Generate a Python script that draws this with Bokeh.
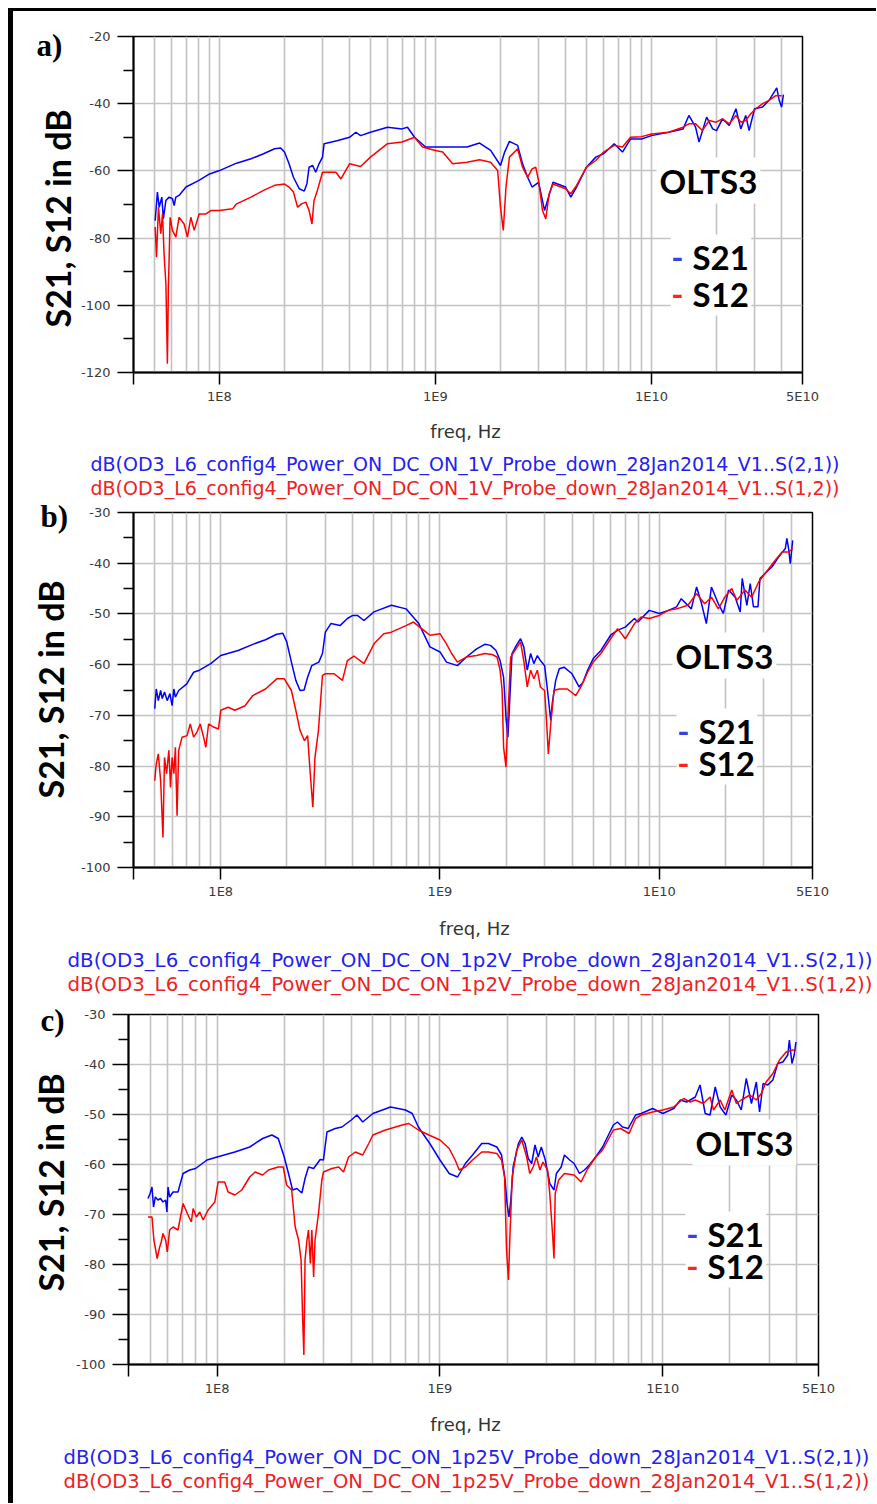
import math
from bokeh.plotting import figure
from bokeh.models import FixedTicker, Label, Div
from bokeh.layouts import column, row
from bokeh.embed import file_html
from bokeh.resources import INLINE

# ---------------- data ----------------
x_tick_values = [4e7, 1e8, 1e9, 1e10, 5e10]
x_tick_labels = ["", "1E8", "1E9", "1E10", "5E10"]

# panel a)
fa21 = [5.04e7, 5.16e7, 5.26e7, 5.41e7, 5.5e7, 5.65e7, 5.85e7, 6.06e7, 6.17e7, 6.28e7, 6.5e7, 7e7, 8e7, 9e7, 1e8,
        1.2e8, 1.4e8, 1.6e8, 1.8e8, 1.92e8, 2e8, 2.1e8, 2.2e8, 2.34e8, 2.47e8, 2.54e8, 2.6e8, 2.7e8, 2.79e8, 2.89e8,
        3e8, 3.05e8, 3.5e8, 4e8, 4.28e8, 4.5e8, 5e8, 6e8, 7e8, 7.42e8, 8e8, 9e8, 1e9, 1.2e9, 1.4e9, 1.6e9, 1.8e9,
        2e9, 2.09e9, 2.2e9, 2.4e9, 2.53e9, 2.67e9, 2.8e9, 3e9, 3.2e9, 3.3e9, 3.5e9, 4e9, 4.23e9, 4.5e9, 5e9, 5.52e9,
        6e9, 6.72e9, 7.34e9, 8e9, 9e9, 1e10, 1.2e10, 1.4e10, 1.49e10, 1.6e10, 1.66e10, 1.8e10, 1.92e10, 2e10,
        2.13e10, 2.29e10, 2.46e10, 2.59e10, 2.73e10, 2.83e10, 3e10, 3.27e10, 3.5e10, 3.8e10, 3.9e10, 4e10, 4.08e10]
da21 = [-74.8, -66.3, -70.8, -67.8, -74.3, -68.8, -67.8, -68.3, -70.3, -67.8, -67.3, -64.8, -62.9, -60.9, -59.9,
        -57.7, -56.4, -54.9, -53.4, -53.2, -54.4, -57.9, -61.9, -65.3, -66.0, -63.8, -58.9, -58.4, -60.4, -57.9,
        -55.9, -51.9, -51.0, -50.0, -48.5, -49.5, -48.5, -47.0, -47.5, -47.0, -50.0, -52.9, -52.9, -52.9, -52.9,
        -51.7, -53.9, -58.4, -54.4, -51.2, -52.4, -57.9, -61.9, -64.8, -63.4, -71.8, -68.8, -63.4, -64.8, -67.8,
        -64.8, -58.9, -55.9, -54.9, -51.9, -54.4, -50.5, -50.5, -49.5, -48.5, -47.5, -43.5, -47.0, -51.4, -44.0,
        -47.5, -48.0, -44.5, -46.5, -41.5, -47.5, -43.5, -48.0, -41.5, -41.0, -39.0, -35.3, -39.0, -41.0, -37.3]
fa12 = [5.04e7, 5.11e7, 5.22e7, 5.35e7, 5.45e7, 5.54e7, 5.65e7, 5.74e7, 5.80e7, 5.91e7, 6.06e7, 6.28e7, 6.5e7,
        6.86e7, 7.11e7, 7.37e7, 7.64e7, 8.05e7, 8.65e7, 9.12e7, 1e8, 1.15e8, 1.2e8, 1.4e8, 1.6e8, 1.8e8, 2e8, 2.1e8,
        2.2e8, 2.3e8, 2.4e8, 2.51e8, 2.6e8, 2.68e8, 2.74e8, 2.84e8, 3e8, 3.46e8, 3.65e8, 4e8, 4.5e8, 5e8, 6e8, 7e8,
        8e8, 8.71e8, 1e9, 1.08e9, 1.2e9, 1.4e9, 1.6e9, 1.8e9, 1.94e9, 2e9, 2.06e9, 2.12e9, 2.2e9, 2.4e9, 2.53e9,
        2.67e9, 2.8e9, 2.91e9, 3e9, 3.13e9, 3.24e9, 3.36e9, 3.5e9, 4e9, 4.23e9, 4.5e9, 5e9, 5.52e9, 6e9, 6.72e9,
        7.34e9, 8e9, 9e9, 1e10, 1.2e10, 1.4e10, 1.49e10, 1.6e10, 1.72e10, 1.85e10, 1.99e10, 2.13e10, 2.29e10,
        2.46e10, 2.59e10, 2.73e10, 2.88e10, 3.04e10, 3.27e10, 3.5e10, 3.76e10, 4e10]
da12 = [-76.7, -85.7, -70.8, -78.7, -72.8, -84.7, -93.6, -117.4, -95.6, -73.8, -77.7, -79.7, -73.8, -75.8, -79.7,
        -73.8, -77.7, -72.8, -72.8, -71.8, -71.8, -71.3, -69.8, -67.8, -65.8, -64.3, -63.9, -64.8, -66.3, -70.8,
        -69.8, -69.3, -71.8, -75.8, -68.8, -65.8, -60.4, -60.4, -62.4, -57.9, -58.7, -55.9, -51.9, -51.4, -50.0,
        -52.9, -53.9, -54.4, -57.9, -57.4, -56.7, -57.4, -59.9, -70.8, -77.7, -64.8, -55.9, -53.4, -58.9, -61.9,
        -59.4, -58.9, -62.9, -71.8, -74.3, -66.8, -63.9, -65.3, -66.8, -64.3, -58.9, -56.9, -54.4, -52.4, -52.9,
        -50.0, -49.8, -49.0, -48.5, -47.0, -46.0, -46.0, -48.0, -45.0, -45.5, -44.5, -46.0, -43.5, -45.5, -45.0,
        -43.0, -41.5, -40.0, -39.0, -37.6, -37.6]

# panel b)
fb21 = [5e7, 5.08e7, 5.19e7, 5.32e7, 5.41e7, 5.54e7, 5.70e7, 5.86e7, 6e7, 6.11e7, 6.21e7, 6.43e7, 7e7, 7.52e7, 8e7,
        9e7, 1e8, 1.2e8, 1.4e8, 1.6e8, 1.8e8, 1.92e8, 2e8, 2.1e8, 2.2e8, 2.3e8, 2.4e8, 2.49e8, 2.6e8, 2.8e8, 2.91e8,
        3e8, 3.18e8, 3.5e8, 3.78e8, 4e8, 4.2e8, 4.5e8, 5e8, 6e8, 7e8, 8e8, 9e8, 1e9, 1.07e9, 1.2e9, 1.32e9, 1.47e9,
        1.6e9, 1.7e9, 1.8e9, 1.88e9, 1.95e9, 2e9, 2.04e9, 2.07e9, 2.13e9, 2.25e9, 2.33e9, 2.41e9, 2.5e9, 2.59e9,
        2.68e9, 2.78e9, 2.87e9, 3e9, 3.08e9, 3.2e9, 3.25e9, 3.37e9, 3.5e9, 3.68e9, 4e9, 4.31e9, 4.5e9, 4.71e9, 5e9,
        5.42e9, 6e9, 6.46e9, 7e9, 7.71e9, 8e9, 9e9, 1e10, 1.1e10, 1.2e10, 1.26e10, 1.4e10, 1.48e10, 1.56e10,
        1.64e10, 1.73e10, 1.86e10, 1.96e10, 2.07e10, 2.22e10, 2.34e10, 2.39e10, 2.51e10, 2.6e10, 2.69e10, 2.82e10,
        2.88e10, 3.04e10, 3.27e10, 3.5e10, 3.76e10, 3.82e10, 3.89e10, 3.96e10, 4.06e10]
db21 = [-68.7, -64.8, -67.1, -65.1, -66.7, -65.4, -67.1, -65.7, -68.1, -64.8, -66.4, -65.1, -63.8, -61.5, -61.1,
        -59.8, -58.2, -57.2, -56.0, -55.1, -54.0, -53.8, -55.5, -59.5, -63.1, -65.1, -65.0, -62.5, -60.2, -59.5,
        -57.8, -53.6, -51.9, -52.3, -50.9, -50.3, -50.3, -51.3, -49.6, -48.3, -49.0, -51.9, -56.5, -57.5, -59.5,
        -60.2, -58.5, -56.9, -56.0, -56.2, -57.2, -59.2, -62.5, -70.4, -74.3, -69.0, -57.8, -55.9, -54.9, -56.5,
        -61.1, -57.8, -59.8, -58.2, -59.2, -60.2, -64.4, -71.0, -67.7, -63.1, -60.8, -60.5, -61.8, -64.4, -63.4,
        -61.1, -58.8, -57.2, -54.2, -53.2, -52.6, -50.9, -51.6, -49.3, -49.9, -49.3, -48.6, -47.0, -49.0, -44.7,
        -48.0, -51.9, -44.7, -48.0, -49.9, -45.3, -46.7, -49.6, -43.0, -48.3, -44.0, -48.6, -48.6, -43.0, -42.0,
        -40.7, -38.8, -37.1, -35.1, -37.1, -40.1, -35.5]
fb12 = [5e7, 5.08e7, 5.19e7, 5.32e7, 5.45e7, 5.54e7, 5.66e7, 5.80e7, 5.90e7, 6e7, 6.11e7, 6.21e7, 6.32e7, 6.43e7,
        6.66e7, 7.02e7, 7.26e7, 7.52e7, 7.79e7, 8.06e7, 8.35e7, 8.55e7, 8.80e7, 9.27e7, 9.76e7, 1e8, 1.08e8, 1.16e8,
        1.29e8, 1.4e8, 1.6e8, 1.8e8, 1.95e8, 2.1e8, 2.2e8, 2.3e8, 2.41e8, 2.49e8, 2.56e8, 2.63e8, 2.69e8, 2.79e8,
        2.91e8, 3e8, 3.29e8, 3.59e8, 3.78e8, 4.05e8, 4.5e8, 5e8, 5.54e8, 6e8, 7e8, 7.57e8, 8.41e8, 9e8, 1e9, 1.07e9,
        1.13e9, 1.2e9, 1.32e9, 1.47e9, 1.6e9, 1.73e9, 1.82e9, 1.88e9, 1.92e9, 1.95e9, 2e9, 2.04e9, 2.1e9, 2.25e9,
        2.33e9, 2.41e9, 2.5e9, 2.59e9, 2.68e9, 2.78e9, 2.87e9, 3e9, 3.06e9, 3.12e9, 3.2e9, 3.31e9, 3.5e9, 3.81e9,
        4.16e9, 4.39e9, 4.71e9, 5e9, 5.42e9, 6e9, 6.46e9, 7e9, 7.71e9, 8.27e9, 9e9, 1e10, 1.1e10, 1.2e10, 1.35e10,
        1.48e10, 1.61e10, 1.73e10, 1.86e10, 1.99e10, 2.14e10, 2.26e10, 2.46e10, 2.64e10, 2.84e10, 3.04e10, 3.38e10,
        3.63e10, 3.89e10, 4.06e10]
db12 = [-82.9, -79.6, -77.6, -82.9, -94.1, -78.3, -81.5, -76.9, -84.2, -78.3, -81.5, -76.3, -89.8, -76.9, -74.3,
        -74.0, -71.7, -74.3, -73.3, -71.7, -74.3, -76.3, -71.7, -72.3, -72.7, -69.0, -68.4, -69.0, -68.1, -66.1,
        -64.8, -62.8, -62.8, -65.1, -69.0, -73.0, -75.0, -74.0, -81.5, -88.1, -78.3, -73.0, -62.1, -61.8, -61.8,
        -63.1, -59.2, -58.3, -59.8, -55.9, -53.9, -53.6, -52.3, -51.6, -53.2, -54.2, -53.9, -55.9, -57.8, -59.5,
        -58.5, -58.2, -57.8, -58.0, -58.5, -61.1, -65.1, -76.3, -80.2, -70.4, -58.5, -56.5, -55.5, -59.2, -64.4,
        -61.1, -62.8, -61.1, -64.4, -65.1, -71.0, -77.6, -71.7, -65.1, -64.8, -64.8, -66.1, -64.4, -61.5, -59.5,
        -57.8, -54.9, -52.9, -54.9, -51.9, -50.6, -50.9, -50.3, -49.3, -49.0, -48.3, -46.0, -48.0, -46.7, -49.0,
        -46.7, -45.0, -47.3, -45.3, -46.7, -43.7, -42.0, -39.4, -37.8, -37.8, -37.1]

# panel c)
fc21 = [4.89e7, 5e7, 5.10e7, 5.18e7, 5.28e7, 5.42e7, 5.57e7, 5.71e7, 5.87e7, 5.95e7, 6.02e7, 6.12e7, 6.34e7, 6.67e7,
        7.03e7, 7.53e7, 8e7, 9e7, 1e8, 1.2e8, 1.4e8, 1.6e8, 1.76e8, 1.88e8, 2e8, 2.09e8, 2.18e8, 2.28e8, 2.4e8,
        2.48e8, 2.57e8, 2.71e8, 2.9e8, 3e8, 3.11e8, 3.39e8, 3.63e8, 4e8, 4.24e8, 4.5e8, 5e8, 6e8, 7e8, 7.51e8, 8e8,
        9e8, 1e9, 1.1e9, 1.2e9, 1.3e9, 1.4e9, 1.54e9, 1.65e9, 1.8e9, 1.89e9, 1.96e9, 2e9, 2.04e9, 2.08e9, 2.13e9,
        2.25e9, 2.33e9, 2.41e9, 2.49e9, 2.58e9, 2.67e9, 2.76e9, 2.85e9, 2.97e9, 3.11e9, 3.25e9, 3.33e9, 3.5e9,
        3.62e9, 3.82e9, 4e9, 4.23e9, 4.45e9, 4.68e9, 5e9, 5.37e9, 6e9, 6.26e9, 6.59e9, 7e9, 7.55e9, 8e9, 9e9, 1e10,
        1.12e10, 1.2e10, 1.28e10, 1.4e10, 1.47e10, 1.55e10, 1.63e10, 1.72e10, 1.81e10, 1.92e10, 2.04e10, 2.14e10,
        2.25e10, 2.37e10, 2.5e10, 2.63e10, 2.72e10, 2.82e10, 2.96e10, 3.12e10, 3.28e10, 3.46e10, 3.64e10, 3.7e10,
        3.8e10, 3.89e10, 3.96e10]
dc21 = [-66.8, -65.8, -64.5, -68.5, -66.5, -67.1, -66.8, -67.5, -67.1, -69.5, -64.5, -66.5, -65.5, -65.5, -61.8,
        -61.1, -60.8, -59.1, -58.5, -57.5, -56.5, -54.8, -54.1, -54.8, -58.5, -61.8, -65.1, -64.8, -65.7, -62.8,
        -60.5, -60.8, -59.0, -59.1, -53.5, -52.8, -52.5, -51.1, -50.1, -51.5, -49.8, -48.5, -49.1, -49.8, -52.5,
        -55.8, -59.1, -61.8, -62.5, -59.8, -58.1, -55.8, -55.8, -56.5, -58.1, -63.1, -67.8, -70.5, -67.1, -60.5,
        -55.8, -54.5, -55.8, -58.8, -59.8, -56.1, -58.5, -56.5, -59.1, -63.8, -65.1, -61.8, -60.5, -58.1, -59.1,
        -59.8, -61.8, -61.1, -60.1, -58.5, -56.5, -52.1, -51.5, -52.5, -52.8, -50.1, -49.8, -48.8, -49.8, -48.8,
        -47.1, -47.5, -46.5, -44.1, -49.8, -50.1, -44.5, -48.5, -50.1, -46.1, -47.1, -49.1, -42.8, -47.8, -43.5,
        -49.5, -43.8, -44.1, -43.1, -39.8, -39.5, -38.1, -35.1, -39.8, -38.1, -35.5]
fc12 = [4.89e7, 5.10e7, 5.20e7, 5.38e7, 5.52e7, 5.61e7, 5.71e7, 5.87e7, 5.97e7, 6.12e7, 6.34e7, 6.67e7, 7.03e7,
        7.40e7, 7.66e7, 7.80e7, 8.07e7, 8.35e7, 8.65e7, 9.11e7, 9.76e7, 1.01e8, 1.08e8, 1.12e8, 1.2e8, 1.29e8, 1.4e8,
        1.48e8, 1.6e8, 1.7e8, 1.88e8, 1.98e8, 2.05e8, 2.16e8, 2.24e8, 2.32e8, 2.38e8, 2.42e8, 2.45e8, 2.48e8,
        2.53e8, 2.57e8, 2.62e8, 2.66e8, 2.71e8, 2.75e8, 2.85e8, 2.95e8, 3e8, 3.27e8, 3.51e8, 3.69e8, 3.89e8, 4.17e8,
        4.5e8, 4.79e8, 5e8, 5.69e8, 6e8, 6.77e8, 7.25e8, 8e8, 8.92e8, 1e9, 1.1e9, 1.17e9, 1.22e9, 1.3e9, 1.4e9,
        1.54e9, 1.65e9, 1.8e9, 1.89e9, 1.95e9, 1.99e9, 2.03e9, 2.06e9, 2.11e9, 2.21e9, 2.33e9, 2.45e9, 2.53e9,
        2.62e9, 2.71e9, 2.81e9, 2.9e9, 3.04e9, 3.11e9, 3.2e9, 3.25e9, 3.29e9, 3.41e9, 3.62e9, 4e9, 4.3e9, 4.61e9,
        5e9, 5.37e9, 6e9, 6.48e9, 7.06e9, 7.55e9, 8e9, 9e9, 1e10, 1.12e10, 1.24e10, 1.33e10, 1.4e10, 1.52e10,
        1.63e10, 1.69e10, 1.81e10, 1.9e10, 2.04e10, 2.14e10, 2.25e10, 2.46e10, 2.63e10, 2.77e10, 2.91e10, 3.12e10,
        3.34e10, 3.58e10, 3.83e10, 3.96e10]
dc12 = [-70.5, -70.5, -75.1, -78.8, -76.5, -75.5, -73.8, -75.1, -77.5, -73.1, -72.5, -73.1, -67.8, -70.1, -71.5,
        -68.8, -70.5, -69.5, -71.1, -69.1, -67.5, -63.5, -63.5, -65.5, -66.1, -65.1, -62.5, -61.5, -62.1, -61.1,
        -60.5, -60.5, -64.1, -65.1, -72.5, -75.1, -79.1, -91.1, -98.1, -79.1, -75.1, -73.1, -79.8, -73.1, -82.5,
        -75.1, -69.8, -63.1, -61.5, -60.8, -60.5, -61.5, -58.5, -57.5, -58.1, -55.8, -54.1, -53.1, -52.8, -52.1,
        -51.8, -53.1, -54.1, -55.1, -56.8, -59.1, -61.1, -60.5, -59.1, -57.5, -57.5, -57.8, -59.1, -62.5, -77.1,
        -83.1, -74.5, -62.5, -57.1, -55.1, -58.5, -61.8, -60.5, -58.5, -61.1, -59.5, -61.1, -65.8, -73.8, -78.8,
        -65.8, -63.1, -61.8, -62.1, -63.5, -60.8, -58.5, -57.1, -53.1, -52.8, -53.8, -50.8, -50.1, -49.5, -49.1,
        -48.5, -46.8, -47.5, -47.1, -47.8, -46.5, -49.1, -47.1, -49.1, -45.1, -47.8, -47.1, -46.1, -47.1, -45.8,
        -43.5, -41.8, -39.1, -37.5, -37.1, -37.1]

legend_a = ["dB(OD3_L6_config4_Power_ON_DC_ON_1V_Probe_down_28Jan2014_V1..S(2,1))",
            "dB(OD3_L6_config4_Power_ON_DC_ON_1V_Probe_down_28Jan2014_V1..S(1,2))"]
legend_b = ["dB(OD3_L6_config4_Power_ON_DC_ON_1p2V_Probe_down_28Jan2014_V1..S(2,1))",
            "dB(OD3_L6_config4_Power_ON_DC_ON_1p2V_Probe_down_28Jan2014_V1..S(1,2))"]
legend_c = ["dB(OD3_L6_config4_Power_ON_DC_ON_1p25V_Probe_down_28Jan2014_V1..S(2,1))",
            "dB(OD3_L6_config4_Power_ON_DC_ON_1p25V_Probe_down_28Jan2014_V1..S(1,2))"]

# ---------------- drawing ----------------
TOTAL_W = 863
BOLD = "Lato"
AXF = "DejaVu Sans"
grid_x = [k * 10.0 ** n for n in range(7, 11) for k in range(1, 10) if 5e7 <= k * 10.0 ** n <= 4e10]


def lab(p, x, y, text, size, color="black", font=BOLD, style="bold", align="left", baseline="middle",
        angle=0.0, bg=None, pad=0):
    kw = {}
    if bg is not None:
        kw = dict(background_fill_color=bg, padding=pad)
    p.add_layout(Label(x=x, y=y, x_units="screen", y_units="screen", text=text, text_font=font,
                       text_font_size=f"{size}px", text_font_style=style, text_color=color,
                       text_align=align, text_baseline=baseline, angle=angle, **kw))


def blank(w, h):
    p = figure(width=w, height=h, x_range=(0, 1), y_range=(0, 1), output_backend="svg", toolbar_location=None,
               x_axis_location=None, y_axis_location=None, min_border=0)
    p.min_border_left = p.min_border_right = p.min_border_top = p.min_border_bottom = 0
    p.grid.visible = False
    p.outline_line_color = None
    p.background_fill_color = "white"
    p.border_fill_color = "white"
    return p


def plot_fig(w, h, bl, br, bt, bb, yr, ymaj, ymin, ygrid, f21, d21, f12, d12, t):
    p = figure(width=w, height=h, x_axis_type="log", x_range=(4e7, 5e10), y_range=yr,
               output_backend="svg", toolbar_location=None,
               min_border_left=bl, min_border_right=br, min_border_top=bt, min_border_bottom=bb)
    p.background_fill_color = "white"
    p.border_fill_color = "white"
    p.outline_line_color = "black"
    p.outline_line_width = 1.5

    p.xaxis.ticker = FixedTicker(ticks=x_tick_values)
    p.xaxis.major_label_overrides = {v: s for v, s in zip(x_tick_values, x_tick_labels)}
    p.xaxis.minor_tick_line_color = None
    p.xaxis.major_tick_out = 12
    p.xaxis.major_tick_in = 0
    p.xaxis.major_label_standoff = 4
    p.yaxis.ticker = FixedTicker(ticks=ymaj, minor_ticks=ymin)
    p.yaxis.major_label_overrides = {v: str(v) for v in ymaj}
    p.yaxis.major_tick_out = 16
    p.yaxis.major_tick_in = 0
    p.yaxis.minor_tick_out = 10
    p.yaxis.minor_tick_in = 0
    p.yaxis.major_label_standoff = 7
    for ax in (p.xaxis, p.yaxis):
        ax.axis_line_width = 2
        ax.axis_line_color = "black"
        ax.major_tick_line_color = "black"
        ax.major_tick_line_width = 1.5
        ax.minor_tick_line_width = 1.5
        ax.major_label_text_font = AXF
        ax.major_label_text_font_size = "13px"
        ax.major_label_text_color = "#3a3a3a"

    p.xgrid.ticker = FixedTicker(ticks=grid_x)
    p.ygrid.ticker = FixedTicker(ticks=ygrid)
    for g in (p.xgrid, p.ygrid):
        g.grid_line_color = "#c3c3c3"
        g.grid_line_width = 1.6

    p.line(f21, d21, line_color="#0000ff", line_width=1.5)
    p.line(f12, d12, line_color="#ff0000", line_width=1.5)

    sx = t["sx"]
    lab(p, t["ol"][0], t["ol"][1], "OLTS3", 33, bg="white", pad=3)
    lab(p, sx - 22, t["s1"], "- S21", 33, bg="white", pad=2, color="white")
    lab(p, sx - 22, t["s2"], "- S12", 33, bg="white", pad=2, color="white")
    lab(p, sx - 15, t["s1"], "-", 33, color="#3344dd", align="center")
    lab(p, sx - 15, t["s2"], "-", 33, color="#ff2020", align="center")
    lab(p, sx, t["s1"], "S21", 33)
    lab(p, sx, t["s2"], "S12", 33)
    return p


def panel(lw, ph, bh, bl, br, bt, bb, yr, ymaj, ymin, ygrid, f21, d21, f12, d12, legend, t):
    left = blank(lw, ph)
    lab(left, t["pl"][0], t["pl"][1], t["plabel"], 31, font="Liberation Serif")
    lab(left, t["yl"][0], t["yl"][1], "S21, S12 in dB", 34, align="center", angle=math.pi / 2)
    main = plot_fig(TOTAL_W - lw, ph, bl, br, bt, bb, yr, ymaj, ymin, ygrid, f21, d21, f12, d12, t)
    below = blank(TOTAL_W, bh)
    lab(below, t["fq"][0], t["fq"][1], "freq, Hz", 18, color="#333333", font=AXF, style="normal", align="center")
    lab(below, t["lg"][0], t["lg"][1], legend[0], t["lgs"], color="#2222ee", font=AXF, style="normal")
    lab(below, t["lg"][0], t["lg"][2], legend[1], t["lgs"], color="#ee2222", font=AXF, style="normal")
    return column(row(column(left, spacing=0), main, spacing=0), below, spacing=0)


# frame of panel a: left 54 / width 671 / top 25 / height 336 inside a 799 x 399 figure
pa = panel(64, 399, 90, 54, 74, 25, 38, (-120, -20),
           [-120, -100, -80, -60, -40, -20], [-110, -90, -70, -50, -30], [-100, -80, -60, -40],
           fa21, da21, fa12, da12, legend_a,
           dict(pl=(23, 365), plabel="a)", yl=(44, 192), fq=(452, 69), lg=(77, 37, 13), lgs=19,
                ol=(523, 192), sx=559, s1=116, s2=79))
pb = panel(62, 405, 91, 58, 64, 12, 38, (-100, -30),
           [-100, -90, -80, -70, -60, -50, -40, -30], [-95, -85, -75, -65, -55, -45, -35],
           [-90, -80, -70, -60, -50, -40],
           fb21, db21, fb12, db12, legend_b,
           dict(pl=(27, 389), plabel="b)", yl=(37, 216), fq=(461, 68), lg=(54, 36, 12), lgs=19.8,
                ol=(539, 212), sx=565, s1=137, s2=105))
pc = panel(59, 407, 100, 56, 58, 18, 39, (-100, -30),
           [-100, -90, -80, -70, -60, -50, -40, -30], [-95, -85, -75, -65, -55, -45, -35],
           [-90, -80, -70, -60, -50, -40],
           fc21, dc21, fc12, dc12, legend_c,
           dict(pl=(27, 383), plabel="c)", yl=(37, 221), fq=(452, 79), lg=(50, 46, 22), lgs=19.5,
                ol=(564, 222), sx=579, s1=131, s2=99))

top_bar = Div(text="", width=TOTAL_W + 5, height=3, margin=(8, 0, 0, 8), styles={"background-color": "black"})
left_bar = Div(text="", width=5, height=1492, margin=(0, 0, 0, 8), styles={"background-color": "black"})
layout = column(top_bar, row(left_bar, column(pa, pb, pc, spacing=0), spacing=0), spacing=0)

open("out.html", "w").write(file_html(layout, INLINE))
